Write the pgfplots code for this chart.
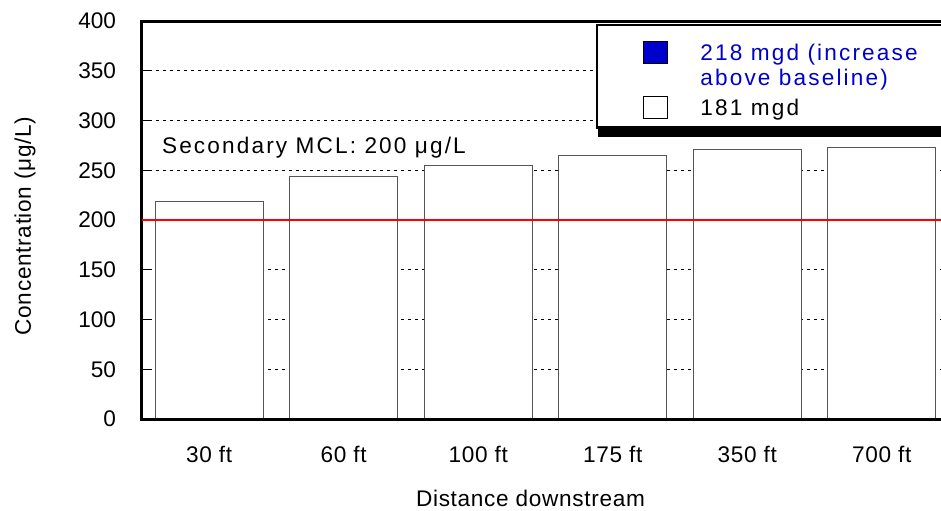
\documentclass[border=0pt]{standalone}
\usepackage{fontspec}
\setmainfont{Liberation Sans}
\newfontfamily\spaced{Liberation Sans}[LetterSpace=9.5]
\newfontfamily\lspaced{Liberation Sans}[LetterSpace=3]
\usepackage{pgfplots}
\pgfplotsset{compat=1.18}
\definecolor{legblue}{RGB}{0,0,204}
\definecolor{baredge}{RGB}{85,85,85}
\pgfplotstableread{
x base total
0 219 219
1 244 244
2 255 255
3 265 265
4 271 271
5 273 273
}\datatable
\begin{document}
\fontsize{11.3pt}{13.5pt}\selectfont
\begin{tikzpicture}
\path[use as bounding box, clip] (0,0) rectangle (470.5pt,255pt);
\begin{axis}[
  at={(71pt,45.5pt)}, anchor=south west,
  scale only axis, width=403.5pt, height=199pt,
  clip=false,
  xmin=-0.5, xmax=5.5, ymin=0, ymax=400,
  xtick={0,1,2,3,4,5},
  xticklabels={30 ft,60 ft,100 ft,175 ft,350 ft,700 ft},
  ytick={0,50,...,400},
  major x tick style={draw=none},
  ytick pos=left, tick align=inside, major tick length=4pt,
  major y tick style={black, line width=0.5pt},
  axis line style={line width=1.5pt},
  ymajorgrids,
  grid style={black, line width=0.4pt, dash pattern=on 1.5pt off 2pt},
  /pgf/number format/assume math mode=true,
  yticklabel style={anchor=east, xshift=-9pt},
  xticklabel style={anchor=base, yshift=-21.5pt, font=\lspaced},
  xlabel={Distance downstream},
  ylabel={Concentration (μg/L)},
  xlabel style={at={(axis description cs:0.5,-0.1985)}, anchor=center, xshift=-7.5pt, font=\lspaced},
  ylabel style={at={(axis description cs:-0.145,0.485)}, anchor=center, font=\lspaced},
  legend style={at={(0.5626,0.9925)}, anchor=north west, draw=black, line width=1.2pt,
    fill=white, inner xsep=23pt, inner ysep=4.1pt, column sep=16pt, row sep=1.6pt,
    nodes={inner sep=0pt, anchor=base west, font=\spaced}},
  legend image code/.code={\draw[#1, line width=0.6pt, draw=black] (0pt,-1.5pt) rectangle (12pt,9.5pt);},
]
\addplot[ybar, bar width=0.8, bar shift=0pt, fill=legblue, draw=baredge, line width=0.5pt]
  table[x=x, y=total]{\datatable};
\addlegendentry{\rule[-2.4pt]{0pt}{15.8pt}\textcolor{legblue}{218 mgd (increase}}
\addlegendimage{empty legend}
\addlegendentry{\rule[-2.4pt]{0pt}{11.9pt}\textcolor{legblue}{above baseline)}}
\addplot[ybar, bar width=0.8, bar shift=0pt, fill=white, draw=baredge, line width=0.5pt]
  table[x=x, y=base]{\datatable};
\addlegendentry{\rule[-2.4pt]{0pt}{13.9pt}181 mgd}
\addplot[red, line width=0.6pt, sharp plot, forget plot] coordinates {(-0.5,200) (5.5,200)};
\addplot[black, line width=1.5pt, sharp plot, forget plot] coordinates {(-0.5,0) (5.5,0)};
\fill[black] (rel axis cs:0.5655,0.709) rectangle (rel axis cs:1.2,0.98);
\node[anchor=base west, inner sep=0pt, font=\spaced] at (axis cs:-0.354,267) {Secondary MCL: 200 μg/L};
\end{axis}
\end{tikzpicture}
\end{document}
